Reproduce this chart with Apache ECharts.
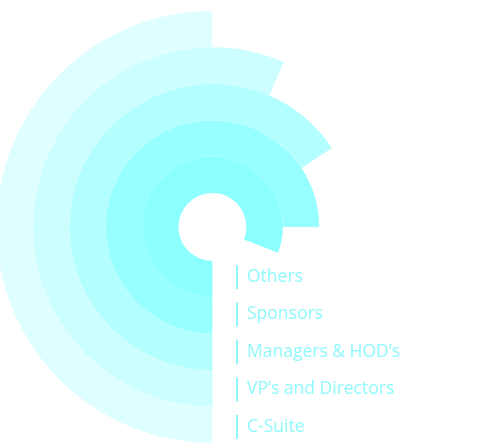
<!DOCTYPE html>
<html>
<head>
<meta charset="utf-8">
<script src="https://cdn.jsdelivr.net/npm/echarts@6/dist/echarts.min.js"></script>
<style>html,body{margin:0;padding:0;background:#fff}#c{width:494px;height:445px}</style>
</head>
<body>
<div id="c"></div>
<script>
var categories = ['Others', 'Sponsors', "Managers & HOD\u2019s", "VP\u2019s and Directors", 'C-Suite'];
var values = [81, 75, 65.7, 56.5, 50];
var colors = ['#8cffff', '#97ffff', '#b3feff', '#cdfeff', '#dffeff'];

var series = categories.map(function (name, i) {
  var d = categories.map(function (_, j) { return j === i ? values[i] : 0; });
  return {
    name: name, type: 'bar', coordinateSystem: 'polar',
    stack: 'all', barWidth: '100%',
    itemStyle: { color: colors[i] },
    data: d
  };
});

var chart = echarts.init(document.getElementById('c'));
chart.setOption({
  animation: false,
  polar: { center: ['43%', '51%'], radius: [34, 216] },
  angleAxis: {
    type: 'value', min: 0, max: 100, startAngle: 270, clockwise: true,
    show: false
  },
  radiusAxis: {
    type: 'category', data: categories, show: false
  },
  legend: {
    data: categories, orient: 'vertical', left: 236, top: 265, padding: 0,
    itemWidth: 2, itemHeight: 24, itemGap: 13.5, icon: 'rect',
    selectedMode: false,
    itemStyle: { color: '#8ef6fb' },
    textStyle: { fontSize: 17.5, fontFamily: 'Open Sans', color: '#8ff9fc', padding: [0, 0, 0, 4] }
  },
  series: series
});
</script>
</body>
</html>
